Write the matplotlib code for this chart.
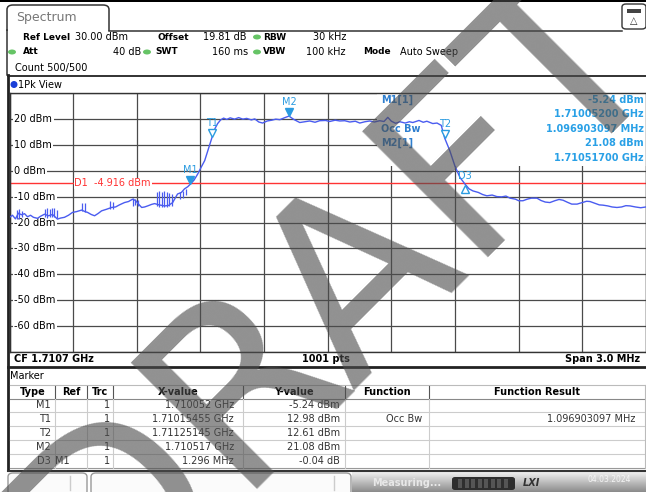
import matplotlib
matplotlib.use("Agg")
import matplotlib.pyplot as plt
from matplotlib.patches import Rectangle, FancyBboxPatch, Ellipse
from matplotlib.lines import Line2D
from matplotlib.transforms import offset_copy
import numpy as np

plt.rcParams['font.family'] = ['DejaVu Sans']
plt.rcParams['font.size'] = 7

# trace 1 (Pk), frequency in MHz, level in dBm
trace_mhz = [1709.200, 1709.214, 1709.228, 1709.242, 1709.256, 1709.271, 1709.285, 1709.299,
             1709.313, 1709.332, 1709.346, 1709.365, 1709.384, 1709.403, 1709.426, 1709.440,
             1709.459, 1709.478, 1709.497, 1709.516, 1709.540, 1709.556, 1709.568, 1709.585,
             1709.601, 1709.618, 1709.634, 1709.657, 1709.681, 1709.700, 1709.718, 1709.742,
             1709.761, 1709.780, 1709.794, 1709.808, 1709.823, 1709.837, 1709.851, 1709.870,
             1709.884, 1709.905, 1709.931, 1709.950, 1709.969, 1709.992, 1710.010, 1710.025,
             1710.040, 1710.052, 1710.070, 1710.087, 1710.105, 1710.120, 1710.138, 1710.155,
             1710.168, 1710.181, 1710.195, 1710.209, 1710.224, 1710.240, 1710.261, 1710.280,
             1710.300, 1710.318, 1710.340, 1710.356, 1710.375, 1710.393, 1710.415, 1710.436,
             1710.455, 1710.474, 1710.495, 1710.517, 1710.540, 1710.568, 1710.590, 1710.615,
             1710.640, 1710.662, 1710.690, 1710.709, 1710.735, 1710.757, 1710.780, 1710.804,
             1710.830, 1710.851, 1710.875, 1710.898, 1710.920, 1710.945, 1710.965, 1710.983,
             1711.000, 1711.020, 1711.040, 1711.065, 1711.085, 1711.101, 1711.130, 1711.150,
             1711.167, 1711.195, 1711.215, 1711.235, 1711.251, 1711.275, 1711.299, 1711.323,
             1711.348, 1711.366, 1711.384, 1711.410, 1711.430, 1711.450, 1711.475, 1711.497,
             1711.520, 1711.540, 1711.559, 1711.585, 1711.600, 1711.620, 1711.640, 1711.660,
             1711.686, 1711.705, 1711.725, 1711.747, 1711.770, 1711.790, 1711.809, 1711.830,
             1711.850, 1711.875, 1711.900, 1711.920, 1711.936, 1711.960, 1711.980, 1711.997,
             1712.020, 1712.040, 1712.063, 1712.085, 1712.105, 1712.125, 1712.150, 1712.175,
             1712.200]
trace_dbm = [-18.0, -17.2, -18.6, -16.4, -17.0, -16.6, -17.8, -17.2,
             -18.0, -18.4, -17.6, -16.8, -17.4, -16.9, -18.7, -18.3,
             -18.0, -17.2, -16.1, -15.8, -15.2, -15.8, -16.1, -16.9,
             -17.4, -16.5, -15.5, -14.9, -14.2, -14.0, -13.2, -12.3,
             -11.9, -11.0, -11.5, -12.9, -14.2, -14.0, -13.6, -13.0,
             -12.7, -13.2, -13.6, -13.4, -12.3, -9.0, -8.4, -7.0,
             -6.2, -5.24, -3.6, -1.3, 1.6, 3.9, 8.6, 12.98,
             16.2, 18.2, 19.6, 20.3, 19.8, 20.4, 19.9, 20.5,
             19.9, 20.2, 19.6, 20.0, 18.8, 18.4, 19.2, 19.5,
             19.9, 19.7, 20.4, 21.08, 19.8, 18.6, 18.9, 19.2,
             18.7, 19.3, 19.4, 19.0, 19.5, 19.2, 19.3, 18.8,
             19.1, 18.4, 18.9, 19.2, 18.8, 19.3, 19.0, 20.6,
             19.1, 18.3, 18.9, 18.4, 18.9, 18.6, 19.4, 18.7,
             19.1, 18.2, 18.4, 17.5, 12.61, 7.8, 1.9, -2.6,
             -5.28, -7.0, -7.8, -8.4, -9.2, -9.7, -9.4, -10.0,
             -10.1, -9.8, -10.6, -11.0, -11.6, -11.6, -11.0, -10.6,
             -10.6, -11.5, -12.1, -12.3, -11.6, -11.1, -11.4, -12.2,
             -12.9, -12.9, -12.3, -11.8, -11.9, -12.6, -13.2, -13.3,
             -13.6, -14.0, -14.2, -14.0, -13.5, -13.6, -14.0, -14.3,
             -14.0]

# peak-hold spikes in the low part of the trace
spike_mhz = [1709.233, 1709.247, 1709.261, 1709.365, 1709.377, 1709.389, 1709.400,
             1709.412, 1709.424, 1709.544, 1709.556, 1709.676, 1709.686, 1709.780,
             1709.792, 1709.804, 1709.893, 1709.905, 1709.917, 1709.929, 1709.941,
             1709.952, 1709.964, 1710.002, 1710.016, 1710.030]
spike_lo = [-18.8, -18.5, -18.0, -18.0, -18.1, -17.8, -18.0, -17.9, -18.4, -15.5, -15.8,
            -14.8, -14.6, -13.6, -13.4, -13.6, -13.8, -14.0, -14.2, -14.0, -14.1, -13.8,
            -13.6, -11.0, -10.5, -9.5]
spike_hi = [-15.0, -14.8, -15.5, -14.6, -14.3, -14.8, -14.4, -14.5, -15.2, -12.3, -12.6,
            -11.6, -12.0, -10.6, -10.8, -11.2, -8.2, -8.0, -8.4, -7.9, -8.3, -8.6,
            -9.0, -8.4, -8.0, -7.2]

cf_mhz = 1710.7
span_mhz = 3.0
ref_level = 30.0
display_line_dbm = -4.916
ytick_dbm = [20, 10, 0, -10, -20, -30, -40, -50, -60]

marker_names = ['M1', 'T1', 'T2', 'M2', 'D3']
marker_mhz = [1710.052, 1710.15455, 1711.25145, 1710.517, 1710.052 + 1.296]
marker_dbm = [-5.24, 12.98, 12.61, 21.08, -5.24 - 0.04]
occ_bw_mhz = 1.096903097

tbl_header = ['Type', 'Ref', 'Trc', 'X-value', 'Y-value', 'Function', 'Function Result']
tbl_type = ['M1', 'T1', 'T2', 'M2', 'D3']
tbl_ref = ['', '', '', '', 'M1']
tbl_trc = ['1', '1', '1', '1', '1']
tbl_x = ['1.710052 GHz', '1.71015455 GHz', '1.71125145 GHz', '1.710517 GHz', '1.296 MHz']
tbl_y = ['-5.24 dBm', '12.98 dBm', '12.61 dBm', '21.08 dBm', '-0.04 dB']
tbl_func = ['', 'Occ Bw', '', '', '']
tbl_result = ['', '1.096903097 MHz', '', '', '']

W, H = 646, 492
fig = plt.figure(figsize=(W / 100, H / 100), dpi=100)
fig.patch.set_facecolor('white')


def fx(x):
    return x / W


def fy(y):
    return 1 - y / H


def rect(x0, y0, x1, y1, **kw):
    fig.add_artist(Rectangle((fx(x0), fy(y1)), (x1 - x0) / W, (y1 - y0) / H,
                             transform=fig.transFigure, **kw))


def rbox(x0, y0, x1, y1, r=4, **kw):
    fig.add_artist(FancyBboxPatch((fx(x0), fy(y1)), (x1 - x0) / W, (y1 - y0) / H,
                                  boxstyle=f"round,pad=0,rounding_size={r / W}",
                                  transform=fig.transFigure, **kw))


def hline(y, x0, x1, **kw):
    fig.add_artist(Line2D([fx(x0), fx(x1)], [fy(y), fy(y)], transform=fig.transFigure, **kw))


def vline(x, y0, y1, **kw):
    fig.add_artist(Line2D([fx(x), fx(x)], [fy(y0), fy(y1)], transform=fig.transFigure, **kw))


def txt(x, y, s, **kw):
    kw.setdefault('va', 'center')
    fig.text(fx(x), fy(y), s, **kw)


def dot(x, y, color, w=8, h=5):
    fig.add_artist(Ellipse((fx(x), fy(y)), w / W, h / H, transform=fig.transFigure,
                           fc=color, ec='none'))


# ---- header ----
rect(0, 0, W, 2, fc='black', ec='none')
rbox(7, 5, 109, 45, r=6, fc='white', ec='#333333', lw=1.1)
rect(5, 31, 112, 47, fc='white', ec='none')
hline(30.5, 109, 622, color='#333333', lw=1.1)
vline(7, 30, 75, color='#333333', lw=1.1)
txt(16, 17, 'Spectrum', color='#777777', fontsize=9)
rbox(622, 4, 646, 29, r=4, fc='white', ec='#333333', lw=1)
rect(627, 9, 641, 13, fc='#444444', ec='none')
txt(634, 21, '△', ha='center', fontsize=7, color='#333333')

green = '#66c466'
bsz = 6.5
txt(23, 37, 'Ref Level', weight='bold', fontsize=bsz)
txt(75, 37, '30.00 dBm')
txt(157, 37, 'Offset', weight='bold', fontsize=bsz)
txt(203, 37, '19.81 dB')
dot(257, 37, green)
txt(263, 37, 'RBW', weight='bold', fontsize=bsz)
txt(346, 37, '30 kHz', ha='right')
dot(12, 52, green)
txt(23, 52, 'Att', weight='bold', fontsize=bsz)
txt(141, 52, '40 dB', ha='right')
dot(147, 52, green)
txt(155, 52, 'SWT', weight='bold', fontsize=bsz)
txt(248, 52, '160 ms', ha='right')
dot(257, 52, green)
txt(263, 52, 'VBW', weight='bold', fontsize=bsz)
txt(346, 52, '100 kHz', ha='right')
txt(363, 52, 'Mode', weight='bold', fontsize=bsz)
txt(400, 52, 'Auto Sweep')
txt(15, 68, 'Count 500/500')

# ---- diagram frame ----
hline(75.5, 8, W, color='#222222', lw=1.3)
vline(8, 75, 470, color='#222222', lw=2)
dot(14, 84.5, '#1a3fd8', w=7, h=7)
txt(18, 84.5, '1Pk View')

ax = fig.add_axes([fx(9.5), fy(352), (W - 9.5) / W, (352 - 93) / H])
f0 = cf_mhz - span_mhz / 2
f1 = cf_mhz + span_mhz / 2
ax.set_xlim(f0, f1)
ax.set_ylim(ref_level - 100, ref_level)
ax.set_xticks(np.linspace(f0, f1, 11))
ax.set_yticks(np.arange(ref_level - 100, ref_level + 1, 10))
ax.set_axisbelow(True)
ax.grid(True, color='#4a4a4a', lw=0.9)
ax.tick_params(length=0, labelbottom=False, labelleft=False)
for s in ax.spines.values():
    s.set_color('#333333')
    s.set_linewidth(1)

# marker info area hides the grid
ax.add_patch(Rectangle((0.578, 0.72), 0.43, 0.29, transform=ax.transAxes,
                       fc='white', ec='none', zorder=1))

for v in ytick_dbm:
    ax.text(0.0075, v, f'{v} dBm', transform=ax.get_yaxis_transform(), va='center',
            ha='left', zorder=1.5,
            bbox=dict(fc='white', ec='none', pad=1.0))

ax.axhline(display_line_dbm, color='#ff3333', lw=1, zorder=2)
ax.text(0.102, display_line_dbm, f'D1  {display_line_dbm:.3f} dBm', color='#ff3333',
        transform=ax.get_yaxis_transform(), va='center', ha='left', zorder=2.2,
        bbox=dict(fc='white', ec='none', pad=0.6))

tcol = '#4a5cf0'
ax.plot(trace_mhz, trace_dbm, color=tcol, lw=1.0, zorder=3)
ax.vlines(spike_mhz, spike_lo, spike_hi, color=tcol, lw=0.9, zorder=3)

mcol = '#2a9be0'
for name, f, lvl in zip(marker_names, marker_mhz, marker_dbm):
    if name.startswith('D'):
        tri = offset_copy(ax.transData, fig=fig, y=-3, units='points')
        ax.plot(f, lvl, marker='^', ms=6, mfc='white', mec=mcol, mew=1, transform=tri, zorder=4)
        lab = offset_copy(ax.transData, fig=fig, y=6, units='points')
    else:
        tri = offset_copy(ax.transData, fig=fig, y=3, units='points')
        fc = mcol if name.startswith('M') else 'white'
        ax.plot(f, lvl, marker='v', ms=6, mfc=fc, mec=mcol, mew=1, transform=tri, zorder=4)
        lab = offset_copy(ax.transData, fig=fig, y=10, units='points')
    ax.text(f, lvl, name, transform=lab, ha='center', va='center', color=mcol,
            fontsize=7, zorder=4)

# marker info text
lcol = '#2f7fcf'
vcol = '#29a0e6'
txt(381, 100, 'M1[1]', color=lcol, weight='bold')
txt(644, 100, f'{marker_dbm[0]:.2f} dBm', ha='right', color=vcol, weight='bold')
txt(644, 114, f'{marker_mhz[0] / 1000:.8f} GHz', ha='right', color=vcol, weight='bold')
txt(381, 129, 'Occ Bw', color=lcol, weight='bold')
txt(644, 129, f'{occ_bw_mhz:.9f} MHz', ha='right', color=vcol, weight='bold')
txt(381, 143, 'M2[1]', color=lcol, weight='bold')
txt(644, 143, f'{marker_dbm[3]:.2f} dBm', ha='right', color=vcol, weight='bold')
txt(644, 158, f'{marker_mhz[3] / 1000:.8f} GHz', ha='right', color=vcol, weight='bold')

# ---- footer of diagram ----
txt(14, 359, f'CF {cf_mhz / 1000:.4f} GHz', weight='bold')
txt(326, 359, '1001 pts', ha='center', weight='bold')
txt(640, 359, f'Span {span_mhz:.1f} MHz', ha='right', weight='bold')
hline(366.5, 8, W, color='#222222', lw=2)

# ---- marker table ----
txt(10, 376, 'Marker')
col_edges = [10, 55, 87, 113, 243, 345, 429, 645]
row_y = [392, 405, 419, 433, 447, 461]
hline(385, 10, 645, color='#bbbbbb', lw=0.8)
hline(398.5, 10, 645, color='#888888', lw=0.8)
for yy in [412, 426, 440, 454]:
    hline(yy, 10, 645, color='#cccccc', lw=0.8)
hline(468, 10, 645, color='#999999', lw=0.8)
hline(470.5, 8, 645, color='#333333', lw=1.5)
for xe in col_edges[1:-1]:
    vline(xe, 386, 398, color='#555555', lw=0.8)
    vline(xe, 399, 468, color='#cccccc', lw=0.8)
vline(645, 385, 468, color='#bbbbbb', lw=0.8)
for i, hd in enumerate(tbl_header):
    txt((col_edges[i] + col_edges[i + 1]) / 2, row_y[0], hd, ha='center', weight='bold')
right_x = [51, 70, 110, 234, 340, 422, 635]
for r in range(len(tbl_type)):
    yy = row_y[r + 1]
    cells = [tbl_type[r], tbl_ref[r], tbl_trc[r], tbl_x[r], tbl_y[r], tbl_func[r], tbl_result[r]]
    for c, s in enumerate(cells):
        if s:
            txt(right_x[c], yy, s, ha='right', color='#333333')

# ---- status bar ----
rbox(8, 473, 87, 495, r=5, fc='#fbfbfb', ec='#999999', lw=1)
vline(70, 476, 490, color='#cccccc', lw=1)
rbox(91, 473, 351, 495, r=5, fc='#fbfbfb', ec='#999999', lw=1)
vline(334, 476, 490, color='#cccccc', lw=1)
sax = fig.add_axes([fx(352), 0, (W - 352) / W, 20 / H])
sax.imshow(np.linspace(0.93, 0.55, 20)[:, None], cmap='gray', vmin=0, vmax=1,
           aspect='auto', extent=[0, 1, 0, 1])
sax.axis('off')
txt(372, 483, 'Measuring...', color='#e8e8e8', weight='bold')
rbox(452, 477, 515, 490, r=3, fc='#2e2e2e', ec='none')
for k in range(8):
    rect(458 + k * 6.5, 479, 462 + k * 6.5, 488, fc='#555555', ec='none')
txt(523, 483, 'LXI', color='#333333', weight='bold', style='italic')
txt(588, 479, '04.03.2024', color='#f5f5f5', fontsize=5.5)

# ---- watermark, 45 deg, centre of baseline at (384, 338) px ----
fig.text(fx(384), fy(338), 'DRAFT', rotation=45, fontsize=176, color='#4d4d4d', alpha=0.62,
         ha='center', va='baseline', rotation_mode='anchor', zorder=100)

fig.savefig('out.png', dpi=100)
